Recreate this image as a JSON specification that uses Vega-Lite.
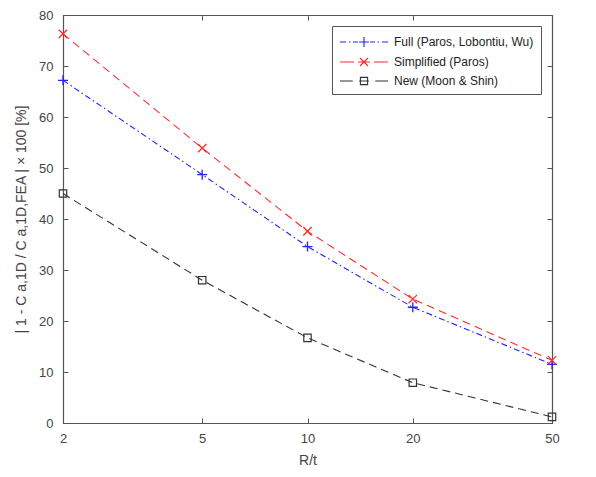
{
  "$schema": "https://vega.github.io/schema/vega-lite/v6.json",
  "width": 489,
  "height": 408,
  "autosize": {"type": "none"},
  "padding": {"left": 63, "top": 15, "right": 44, "bottom": 54},
  "background": "white",
  "config": {
    "font": "Liberation Sans",
    "view": {"stroke": "#555555", "strokeWidth": 1},
    "axis": {
      "grid": false,
      "domainColor": "#555555",
      "domainWidth": 1.2,
      "tickColor": "#555555",
      "tickSize": -5,
      "labelFont": "Liberation Sans",
      "labelFontSize": 13,
      "labelColor": "#444444",
      "labelFlush": false,
      "titleFont": "Liberation Sans",
      "titleFontSize": 14,
      "titleFontWeight": "normal",
      "titleColor": "#444444"
    }
  },
  "data": {
    "values": [
      {"series": "Full (Paros, Lobontiu, Wu)", "rt": 2, "err": 67.2},
      {"series": "Full (Paros, Lobontiu, Wu)", "rt": 5, "err": 48.7},
      {"series": "Full (Paros, Lobontiu, Wu)", "rt": 10, "err": 34.6},
      {"series": "Full (Paros, Lobontiu, Wu)", "rt": 20, "err": 22.7},
      {"series": "Full (Paros, Lobontiu, Wu)", "rt": 50, "err": 11.5},
      {"series": "Simplified (Paros)", "rt": 2, "err": 76.3},
      {"series": "Simplified (Paros)", "rt": 5, "err": 53.9},
      {"series": "Simplified (Paros)", "rt": 10, "err": 37.6},
      {"series": "Simplified (Paros)", "rt": 20, "err": 24.3},
      {"series": "Simplified (Paros)", "rt": 50, "err": 12.3},
      {"series": "New (Moon & Shin)", "rt": 2, "err": 45.0},
      {"series": "New (Moon & Shin)", "rt": 5, "err": 28.0},
      {"series": "New (Moon & Shin)", "rt": 10, "err": 16.7},
      {"series": "New (Moon & Shin)", "rt": 20, "err": 7.9},
      {"series": "New (Moon & Shin)", "rt": 50, "err": 1.2}
    ]
  },
  "layer": [
    {
      "encoding": {
        "x": {
          "field": "rt", "type": "quantitative",
          "scale": {"type": "log", "domain": [2, 50]},
          "axis": {"values": [2, 5, 10, 20, 50], "format": "d", "title": "R/t", "labelPadding": 14, "titlePadding": 8}
        },
        "y": {
          "field": "err", "type": "quantitative",
          "scale": {"domain": [0, 80]},
          "axis": {"values": [0, 10, 20, 30, 40, 50, 60, 70, 80], "title": "| 1 - C a,1D / C a,1D,FEA | × 100 [%]", "labelPadding": 15, "titlePadding": 10}
        }
      },
      "layer": [
        {
          "transform": [{"filter": "datum.series === 'Full (Paros, Lobontiu, Wu)'"}],
          "mark": {"type": "line", "color": "#2222ff", "strokeWidth": 1.1, "strokeDash": [6, 3, 1.5, 3]}
        },
        {
          "transform": [{"filter": "datum.series === 'Simplified (Paros)'"}],
          "mark": {"type": "line", "color": "#ff2a2a", "strokeWidth": 1.1, "strokeDash": [8, 5]}
        },
        {
          "transform": [{"filter": "datum.series === 'New (Moon & Shin)'"}],
          "mark": {"type": "line", "color": "#333333", "strokeWidth": 1.1, "strokeDash": [8, 5]}
        },
        {
          "transform": [{"filter": "datum.series === 'Full (Paros, Lobontiu, Wu)'"}],
          "mark": {"type": "point", "shape": "M-1,0H1M0,-1V1", "filled": false, "size": 100, "color": "#2222ff", "strokeWidth": 1.3, "opacity": 1}
        },
        {
          "transform": [{"filter": "datum.series === 'Simplified (Paros)'"}],
          "mark": {"type": "point", "shape": "M-1,-1L1,1M-1,1L1,-1", "filled": false, "size": 70, "color": "#ff2a2a", "strokeWidth": 1.3, "opacity": 1}
        },
        {
          "transform": [{"filter": "datum.series === 'New (Moon & Shin)'"}],
          "mark": {"type": "point", "shape": "square", "filled": false, "size": 55, "color": "#333333", "strokeWidth": 1.2, "opacity": 1}
        },
        {
          "mark": {"type": "point", "filled": false, "opacity": 0},
          "encoding": {
            "color": {
              "field": "series", "type": "nominal",
              "scale": {"domain": ["Full (Paros, Lobontiu, Wu)", "Simplified (Paros)", "New (Moon & Shin)"], "range": ["#2222ff", "#ff2a2a", "#333333"]},
              "legend": {"title": null, "orient": "top-right", "offset": 11, "strokeColor": "#555555", "fillColor": "white", "padding": 7, "rowPadding": 3, "labelFont": "Liberation Sans", "labelFontSize": 12, "labelColor": "#222222", "symbolSize": 256, "symbolStrokeWidth": 1.1, "labelOffset": 37}
            },
            "shape": {
              "field": "series", "type": "nominal",
              "scale": {
                "domain": ["Full (Paros, Lobontiu, Wu)", "Simplified (Paros)", "New (Moon & Shin)"],
                "range": [
                  "M-1,0H-0.25M0.125,0H0.3125M0.625,0H1.25M1.375,0H2.625M2,-0.625V0.625M2.75,0H3.375M3.6875,0H3.875M4.25,0H5",
                  "M-1,0H0.75M1.25,0H2.75M3.25,0H5M1.5,-0.5L2.5,0.5M1.5,0.5L2.5,-0.5",
                  "M-1,0H0.6M1.4,0H2.6M3.4,0H5M1.55,-0.45H2.45V0.45H1.55Z"
                ]
              },
              "legend": {"title": null, "orient": "top-right", "offset": 11, "strokeColor": "#555555", "fillColor": "white", "padding": 7, "rowPadding": 3, "labelFont": "Liberation Sans", "labelFontSize": 12, "labelColor": "#222222", "symbolSize": 256, "symbolStrokeWidth": 1.1, "labelOffset": 37}
            }
          }
        }
      ]
    },
    {
      "mark": {"type": "point", "opacity": 0},
      "encoding": {
        "x": {
          "field": "rt", "type": "quantitative",
          "scale": {"type": "log", "domain": [2, 50]},
          "axis": {"orient": "top", "values": [2, 5, 10, 20, 50], "labels": false, "title": null}
        },
        "y": {
          "field": "err", "type": "quantitative",
          "scale": {"domain": [0, 80]},
          "axis": {"orient": "right", "values": [0, 10, 20, 30, 40, 50, 60, 70, 80], "labels": false, "title": null}
        }
      }
    }
  ],
  "resolve": {"axis": {"x": "independent", "y": "independent"}}
}
